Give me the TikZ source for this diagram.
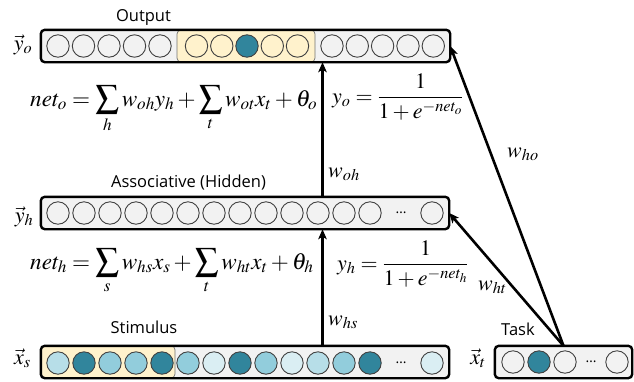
\documentclass[tikz,border=0pt]{standalone}
\usepackage{mathptmx}
\usepackage[no-math]{fontspec}
\newfontfamily\labfont{Open Sans}
\usetikzlibrary{arrows.meta}
\definecolor{boxgray}{HTML}{F2F2F2}
\definecolor{hl}{HTML}{FFF2CC}
\definecolor{cdark}{HTML}{31859C}
\definecolor{cmid}{HTML}{92CDDC}
\definecolor{clight}{HTML}{B7DEE8}
\definecolor{cpale}{HTML}{DAEEF3}
\tikzset{
  layerfill/.style={fill=boxgray, rounded corners=4pt, inner sep=0pt, draw=none},
  layerline/.style={draw=black, line width=2.4pt, rounded corners=4pt},
  hlbox/.style={fill=hl, draw=black!55, line width=0.7pt, rounded corners=4pt},
  unit/.style={circle, draw=black!75, line width=0.9pt, minimum size=22.4pt, inner sep=0pt},
  arr/.style={line width=2.6pt, -{Stealth[length=10pt,width=8.5pt,inset=2.5pt]}},
  lab/.style={font=\labfont\fontsize{16.5}{18}\selectfont, inner sep=0pt},
  mth/.style={font=\fontsize{22}{26}\selectfont, inner sep=0pt},
  bigmth/.style={font=\fontsize{23.2}{27}\selectfont, inner sep=0pt},
  dotsl/.style={font=\labfont\fontsize{14}{14}\selectfont, inner sep=0pt}
}
\begin{document}
\begin{tikzpicture}[x=1pt,y=-1pt]
\useasboundingbox (0,0) rectangle (634,381);
% boxes (fill)
\node[layerfill, minimum width=409pt, minimum height=32pt] (outbox) at (245.5,46) {};
\node[layerfill, minimum width=408pt, minimum height=32pt] (hidbox) at (245,213) {};
\node[layerfill, minimum width=408pt, minimum height=32pt] (stimbox) at (245,362) {};
\node[layerfill, minimum width=137pt, minimum height=32pt] (taskbox) at (563.5,362) {};
% highlights
\draw[hlbox] (177,30) rectangle (315,62);
\draw[hlbox] (stimbox.north west) rectangle (175,378);
% output units
\foreach \x/\c [count=\i] in {58/none,83.5/none,109/none,134.5/none,160/none,196.5/none,221.8/none,247/cdark,272.3/none,297.5/none,332/none,357.3/none,382.6/none,408/none,433.3/none}
  \node[unit, fill=\c] (o\i) at (\x,46) {};
% hidden units
\foreach \k in {0,...,12}
  \node[unit] (h\k) at ({58+26*\k},213) {};
\node[dotsl] (hdots) at (401,213) {…};
\node[unit] (hlast) at (432,213) {};
% stimulus units
\foreach \c [count=\i from 0] in {clight,cdark,cmid,cmid,cdark,cmid,cpale,cdark,cmid,cpale,clight,cmid,cdark}
  \node[unit, fill=\c] (s\i) at ({58+26*\i},363) {};
\node[dotsl] (sdots) at (401,363) {…};
\node[unit, fill=cpale] (slast) at (432,363) {};
% task units
\node[unit] (t1) at (513,362) {};
\node[unit, fill=cdark] (t2) at (539,362) {};
\node[unit] (t3) at (565,362) {};
\node[dotsl] (tdots) at (591,362) {…};
\node[unit] (t4) at (617,362) {};
% box outlines
\draw[layerline] (outbox.north west) rectangle (outbox.south east);
\draw[layerline] (hidbox.north west) rectangle (hidbox.south east);
\draw[layerline] (stimbox.north west) rectangle (stimbox.south east);
\draw[layerline] (taskbox.north west) rectangle (taskbox.south east);
% labels
\node[lab, anchor=base] (outlab) at (143.5,21.7) {Output};
\node[lab, anchor=base] (hidlab) at (188.5,187) {Associative (Hidden)};
\node[lab, anchor=base] (stimlab) at (144,333) {Stimulus};
\node[lab, anchor=base] (tasklab) at (518,335) {Task};
% vector labels
\node[mth, anchor=base] (vyo) at (23,50) {$\vec{y}_o$};
\node[mth, anchor=base] (vyh) at (24,222) {$\vec{y}_h$};
\node[mth, anchor=base] (vxs) at (22.5,364) {$\vec{x}_s$};
\node[mth, anchor=base] (vxt) at (478,364) {$\vec{x}_t$};
% connectors
\coordinate (xa) at (322.5,0);
\draw[arr] (stimbox.north -| xa) -- (hidbox.south -| xa);
\draw[arr] (hidbox.north -| xa) -- (outbox.south -| xa);
\draw[arr] (taskbox.north) -- (hidbox.east);
\draw[arr] (taskbox.north) -- (outbox.east);
% formulas
\node[bigmth, anchor=base west] (neto) at (30,106) {$\displaystyle net_o=\sum_h w_{oh}y_h+\sum_t w_{ot}x_t+\theta_o$};
\node[mth, anchor=base west] (yo) at (332,103) {$\displaystyle y_o=\frac{1}{1+e^{-net_o}}$};
\node[bigmth, anchor=base west] (neth) at (30,269) {$\displaystyle net_h=\sum_s w_{hs}x_s+\sum_t w_{ht}x_t+\theta_h$};
\node[mth, anchor=base west] (yh) at (337,270) {$\displaystyle y_h=\frac{1}{1+e^{-net_h}}$};
% weight labels
\node[mth, anchor=base west] (woh) at (328,177) {$w_{oh}$};
\node[mth, anchor=base west] (who) at (507,157) {$w_{ho}$};
\node[mth, anchor=base west] (whs) at (328,325) {$w_{hs}$};
\node[mth, anchor=base west] (wht) at (478,290) {$w_{ht}$};
\end{tikzpicture}
\end{document}
